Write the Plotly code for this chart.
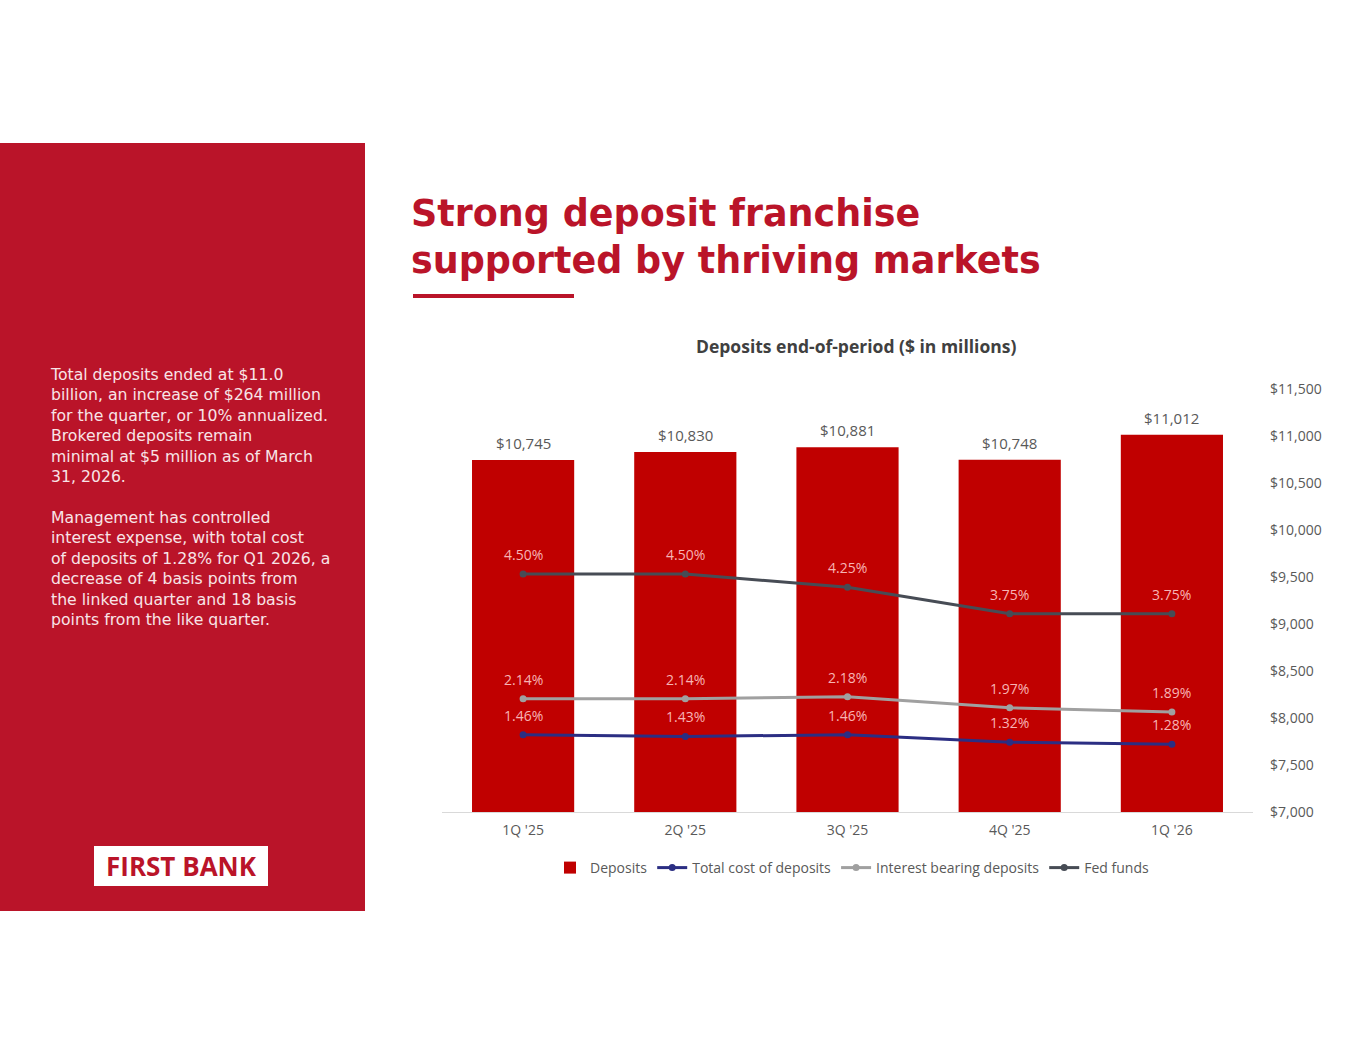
import plotly.graph_objects as go

W, H = 1365, 1055

quarters = ["1Q '25", "2Q '25", "3Q '25", "4Q '25", "1Q '26"]
deposits = [10745, 10830, 10881, 10748, 11012]
total_cost = [1.46, 1.43, 1.46, 1.32, 1.28]
interest_bearing = [2.14, 2.14, 2.18, 1.97, 1.89]
fed_funds = [4.50, 4.50, 4.25, 3.75, 3.75]

title_lines = ["Strong deposit franchise", "supported by thriving markets"]
chart_title = "Deposits end-of-period ($ in millions)"
body_lines = [
    "Total deposits ended at $11.0",
    "billion, an increase of $264 million",
    "for the quarter, or 10% annualized.",
    "Brokered deposits remain",
    "minimal at $5 million as of March",
    "31, 2026.",
    "",
    "Management has controlled",
    "interest expense, with total cost",
    "of deposits of 1.28% for Q1 2026, a",
    "decrease of 4 basis points from",
    "the linked quarter and 18 basis",
    "points from the like quarter.",
]

FONT = "Open Sans"
WIDE = "DejaVu Sans"
RED = "#ba1429"
BAR_RED = "#c00000"
LABEL_PINK = "#f7b4b4"
GRAY = "#595959"


def px(x):
    return x / W


def py(y):
    return 1 - y / H


fig = go.Figure()

fig.add_trace(go.Bar(
    x=quarters, y=deposits, name="Deposits",
    marker=dict(color=BAR_RED, line=dict(width=0)),
    width=0.63, yaxis="y",
))

line_specs = [
    ("Total cost of deposits", total_cost, "#2b2e83"),
    ("Interest bearing deposits", interest_bearing, "#a0a0a0"),
    ("Fed funds", fed_funds, "#474c55"),
]
for name, vals, col in line_specs:
    fig.add_trace(go.Scatter(
        x=quarters, y=vals, name=name, mode="lines+markers",
        line=dict(color=col, width=3),
        marker=dict(color=col, size=7),
        cliponaxis=False, yaxis="y2",
    ))

shapes = [
    dict(type="rect", xref="paper", yref="paper", x0=0, x1=px(365), y0=py(911), y1=py(143),
         fillcolor=RED, line=dict(width=0), layer="below"),
    dict(type="rect", xref="paper", yref="paper", x0=px(94), x1=px(268), y0=py(886), y1=py(846),
         fillcolor="white", line=dict(width=0), layer="below"),
    dict(type="rect", xref="paper", yref="paper", x0=px(413), x1=px(574), y0=py(298), y1=py(294),
         fillcolor=RED, line=dict(width=0), layer="below"),
]

annotations = []
# bar value labels
for q, v in zip(quarters, deposits):
    annotations.append(dict(
        text=f"${v:,}", x=q, y=v, xref="x", yref="y", xanchor="center", yanchor="bottom",
        yshift=5, showarrow=False, font=dict(family=FONT, size=15, color=GRAY)))
# line value labels
for name, vals, col in line_specs:
    for q, v in zip(quarters, vals):
        annotations.append(dict(
            text=f"{v:.2f}%", x=q, y=v, xref="x", yref="y2", xanchor="center",
            yanchor="bottom", yshift=8, showarrow=False,
            font=dict(family=FONT, size=14, color=LABEL_PINK)))

annotations.append(dict(
    text="<br>".join(f"<b>{t}</b>" for t in title_lines), x=px(409), y=py(237),
    xref="paper", yref="paper", xanchor="left", yanchor="middle", align="left",
    showarrow=False, font=dict(family=WIDE, size=36.5, color=RED)))

annotations.append(dict(
    text="<br>".join(body_lines), x=px(48), y=py(363), xref="paper", yref="paper",
    xanchor="left", yanchor="top", align="left", showarrow=False,
    font=dict(family=WIDE, size=15.7, color="#f8e4e7")))

annotations.append(dict(
    text="<b>FIRST BANK</b>", x=px(181), y=py(866), xref="paper", yref="paper",
    xanchor="center", yanchor="middle", showarrow=False,
    font=dict(family=FONT, size=26, color=RED)))

annotations.append(dict(
    text=f"<b>{chart_title}</b>", x=px(856), y=py(346), xref="paper", yref="paper",
    xanchor="center", yanchor="middle", showarrow=False,
    font=dict(family=FONT, size=17.5, color="#404040")))

fig.update_layout(
    width=W, height=H,
    margin=dict(l=0, r=0, t=0, b=0),
    paper_bgcolor="white", plot_bgcolor="white",
    font=dict(family=FONT, color=GRAY, size=14),
    showlegend=True,
    legend=dict(orientation="h", x=px(852), xanchor="center", y=py(868), yanchor="middle",
                font=dict(size=14, color=GRAY, family=FONT), itemwidth=30,
                traceorder="normal", bgcolor="rgba(0,0,0,0)"),
    xaxis=dict(domain=[px(442), px(1253)], showgrid=False, showline=True,
               linecolor="#d9d9d9", linewidth=1, ticks="", automargin=False,
               tickfont=dict(size=14, color=GRAY, family=FONT), ticklabelstandoff=5),
    yaxis=dict(domain=[py(812), py(389)], side="right", range=[7000, 11500], dtick=500,
               tickprefix="$", tickformat=",", showgrid=False, zeroline=False,
               showline=False, ticks="", automargin=False, ticklabelstandoff=16,
               tickfont=dict(size=14, color=GRAY, family=FONT)),
    yaxis2=dict(domain=[py(812), py(389)], overlaying="y", side="left", range=[0, 8],
                visible=False, showgrid=False),
    shapes=shapes,
    annotations=annotations,
    bargap=0.37,
)

fig.write_html("out.html")
